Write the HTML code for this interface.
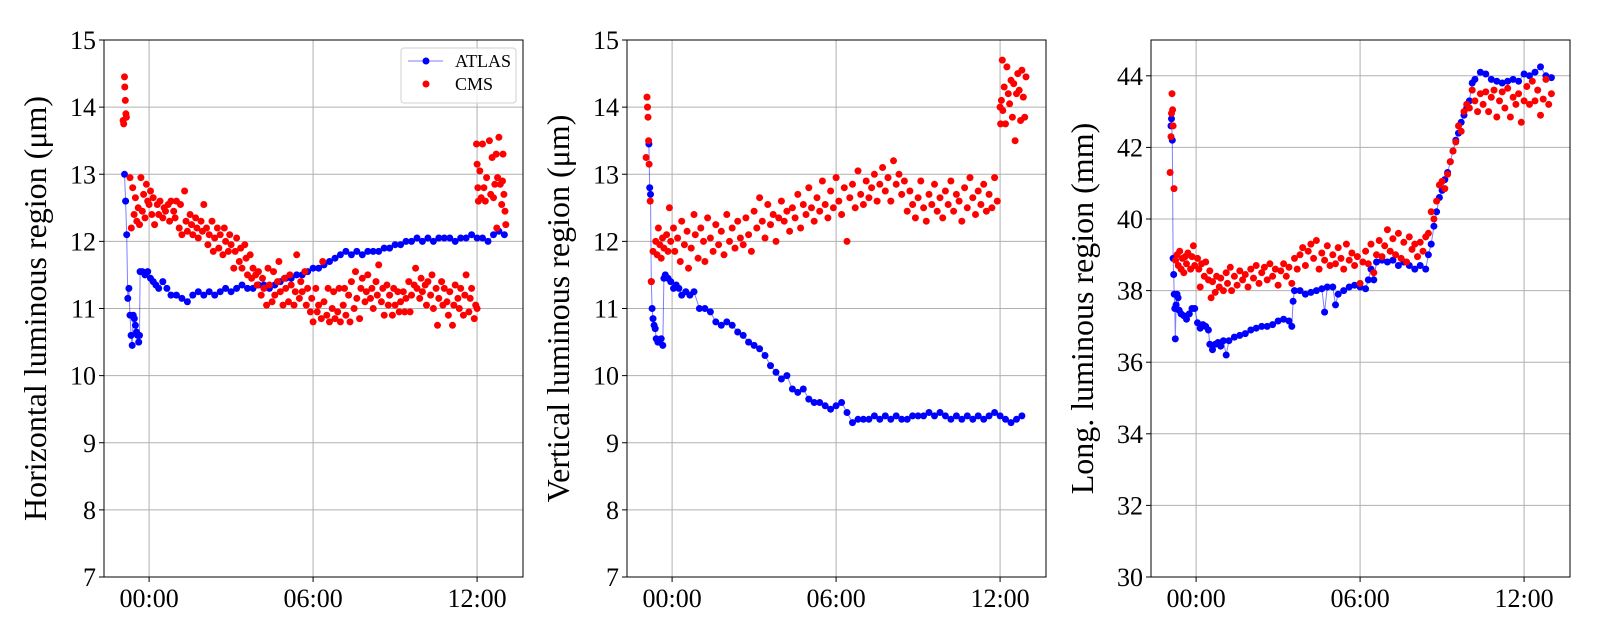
<!DOCTYPE html>
<html><head><meta charset="utf-8">
<style>
html,body{margin:0;padding:0;background:#fff;}
svg{display:block;font-family:"Liberation Serif","DejaVu Serif",serif;}
</style></head>
<body>
<svg id="fig" width="1600" height="640" viewBox="0 0 1600 640" xmlns="http://www.w3.org/2000/svg"></svg>
<script>
const xTickLabels = ["00:00","06:00","12:00"];
const xTickHours = [0,6,12];
const p1YTicks = [7,8,9,10,11,12,13,14,15];
const p2YTicks = [7,8,9,10,11,12,13,14,15];
const p3YTicks = [30,32,34,36,38,40,42,44];
const seriesNames = ["ATLAS","CMS"];
const yTitles = ["Horizontal luminous region (\u03bcm)","Vertical luminous region (\u03bcm)","Long. luminous region (mm)"];

const p1Atlas = [[-0.9,13.0],[-0.86,12.6],[-0.82,12.1],[-0.78,11.15],[-0.74,11.3],[-0.7,10.9],[-0.66,10.6],[-0.62,10.45],[-0.58,10.9],[-0.54,10.85],[-0.5,10.75],[-0.46,10.65],[-0.42,10.6],[-0.38,10.5],[-0.35,10.6],[-0.33,11.55],[-0.25,11.55],[-0.15,11.5],[-0.05,11.55],[0.05,11.45],[0.15,11.4],[0.25,11.35],[0.35,11.3],[0.5,11.4],[0.65,11.3],[0.8,11.2],[1.0,11.2],[1.2,11.15],[1.4,11.1],[1.6,11.2],[1.8,11.25],[2.0,11.2],[2.2,11.25],[2.4,11.2],[2.6,11.25],[2.8,11.3],[3.0,11.25],[3.2,11.3],[3.4,11.35],[3.6,11.3],[3.8,11.3],[4.0,11.35],[4.2,11.35],[4.4,11.3],[4.6,11.35],[4.8,11.4],[5.0,11.45],[5.2,11.45],[5.4,11.5],[5.6,11.5],[5.8,11.55],[6.0,11.6],[6.2,11.6],[6.4,11.65],[6.6,11.7],[6.8,11.75],[7.0,11.8],[7.2,11.85],[7.4,11.8],[7.6,11.85],[7.8,11.8],[8.0,11.85],[8.2,11.85],[8.4,11.85],[8.6,11.9],[8.8,11.9],[9.0,11.95],[9.2,11.95],[9.4,12.0],[9.6,12.0],[9.8,12.05],[10.0,12.0],[10.2,12.05],[10.4,12.0],[10.6,12.05],[10.8,12.05],[11.0,12.05],[11.2,12.0],[11.4,12.05],[11.6,12.05],[11.8,12.1],[12.0,12.05],[12.2,12.05],[12.4,12.0],[12.6,12.1],[12.8,12.15],[13.0,12.1]];
const p1Cms = [[-0.95,13.8],[-0.93,13.75],[-0.9,14.45],[-0.89,14.3],[-0.87,14.1],[-0.85,13.9],[-0.83,13.85],[-0.7,12.95],[-0.65,12.2],[-0.6,12.8],[-0.55,12.4],[-0.5,12.65],[-0.45,12.3],[-0.4,12.5],[-0.35,12.25],[-0.3,12.95],[-0.25,12.45],[-0.2,12.7],[-0.15,12.35],[-0.1,12.85],[-0.05,12.6],[0,12.55],[0.05,12.75],[0.1,12.4],[0.15,12.65],[0.2,12.25],[0.3,12.55],[0.35,12.4],[0.4,12.6],[0.5,12.35],[0.55,12.5],[0.6,12.45],[0.7,12.55],[0.75,12.3],[0.8,12.6],[0.9,12.45],[0.95,12.35],[1.0,12.6],[1.1,12.2],[1.15,12.55],[1.2,12.1],[1.3,12.75],[1.35,12.3],[1.4,12.15],[1.5,12.4],[1.55,12.25],[1.6,12.1],[1.7,12.35],[1.75,12.2],[1.8,12.05],[1.9,12.3],[1.95,12.15],[2.0,12.55],[2.1,12.2],[2.15,11.95],[2.2,12.1],[2.3,12.3],[2.35,11.85],[2.4,12.05],[2.5,12.2],[2.55,11.9],[2.6,12.1],[2.7,11.8],[2.75,12.2],[2.8,12.0],[2.9,11.85],[2.95,12.1],[3.0,11.95],[3.1,11.6],[3.15,11.85],[3.2,12.05],[3.3,11.7],[3.35,11.9],[3.4,11.6],[3.5,11.95],[3.55,11.75],[3.6,11.5],[3.7,11.8],[3.75,11.45],[3.8,11.6],[3.9,11.5],[3.95,11.35],[4.0,11.55],[4.1,11.2],[4.15,11.45],[4.2,11.3],[4.3,11.05],[4.35,11.6],[4.4,11.35],[4.5,11.1],[4.55,11.55],[4.6,11.2],[4.7,11.4],[4.75,11.7],[4.8,11.25],[4.9,11.05],[4.95,11.45],[5.0,11.3],[5.1,11.1],[5.15,11.5],[5.2,11.35],[5.3,11.05],[5.35,11.25],[5.4,11.8],[5.5,11.15],[5.55,11.4],[5.6,11.25],[5.7,11.55],[5.75,11.05],[5.8,11.3],[5.9,10.95],[5.95,11.15],[6.0,10.8],[6.1,11.3],[6.15,10.95],[6.2,11.05],[6.3,10.85],[6.35,11.7],[6.4,11.1],[6.5,10.9],[6.55,11.3],[6.6,10.8],[6.7,11.0],[6.75,11.25],[6.8,10.85],[6.9,10.95],[6.95,11.3],[7.0,10.8],[7.1,11.05],[7.15,11.3],[7.2,10.9],[7.3,11.2],[7.35,10.8],[7.4,11.4],[7.5,11.0],[7.55,11.55],[7.6,11.15],[7.7,10.85],[7.75,11.3],[7.8,11.45],[7.9,11.1],[7.95,11.25],[8.0,11.5],[8.1,11.15],[8.15,11.3],[8.2,11.0],[8.3,11.4],[8.35,11.2],[8.4,11.65],[8.5,11.1],[8.55,11.3],[8.6,10.9],[8.7,11.35],[8.75,11.05],[8.8,11.2],[8.9,10.9],[8.95,11.3],[9.0,11.05],[9.1,11.25],[9.15,10.95],[9.2,11.1],[9.3,11.25],[9.35,10.95],[9.4,11.15],[9.5,11.4],[9.55,10.95],[9.6,11.2],[9.7,11.35],[9.75,11.6],[9.8,11.3],[9.9,11.15],[9.95,11.45],[10.0,11.25],[10.1,11.35],[10.15,11.05],[10.2,11.4],[10.3,11.2],[10.35,11.5],[10.4,11.0],[10.5,11.3],[10.55,10.75],[10.6,11.15],[10.7,11.4],[10.75,11.05],[10.8,11.3],[10.9,11.1],[10.95,10.9],[11.0,11.25],[11.1,10.75],[11.15,11.05],[11.2,11.35],[11.3,11.15],[11.35,11.0],[11.4,11.3],[11.5,10.9],[11.55,11.2],[11.6,11.5],[11.7,10.95],[11.75,11.15],[11.8,11.3],[11.9,10.85],[11.95,11.05],[12.0,11.0],[11.98,13.45],[12.0,13.15],[12.03,12.8],[12.05,12.6],[12.1,13.05],[12.15,12.65],[12.2,13.45],[12.25,12.8],[12.3,12.6],[12.35,12.95],[12.45,13.5],[12.5,12.7],[12.55,13.25],[12.6,12.65],[12.65,12.85],[12.7,13.3],[12.72,12.2],[12.75,12.95],[12.8,13.55],[12.85,12.85],[12.9,12.55],[12.93,12.9],[12.95,13.3],[12.98,12.7],[13.02,12.45],[13.05,12.25]];

const p2Atlas = [[-0.85,13.45],[-0.82,12.8],[-0.79,12.7],[-0.76,11.4],[-0.73,11.0],[-0.7,10.85],[-0.66,10.75],[-0.62,10.7],[-0.58,10.55],[-0.52,10.5],[-0.46,10.5],[-0.4,10.55],[-0.34,10.45],[-0.3,11.45],[-0.25,11.5],[-0.15,11.45],[-0.05,11.4],[0.05,11.3],[0.15,11.35],[0.25,11.3],[0.35,11.2],[0.5,11.25],[0.65,11.2],[0.8,11.25],[1.0,11.0],[1.2,11.0],[1.4,10.95],[1.6,10.8],[1.8,10.75],[2.0,10.8],[2.2,10.75],[2.4,10.65],[2.6,10.6],[2.8,10.5],[3.0,10.45],[3.2,10.4],[3.4,10.3],[3.6,10.15],[3.8,10.05],[4.0,9.95],[4.2,10.0],[4.4,9.8],[4.6,9.75],[4.8,9.8],[5.0,9.65],[5.2,9.6],[5.4,9.6],[5.6,9.55],[5.8,9.5],[6.0,9.55],[6.2,9.6],[6.4,9.45],[6.6,9.3],[6.8,9.35],[7.0,9.35],[7.2,9.35],[7.4,9.4],[7.6,9.35],[7.8,9.4],[8.0,9.35],[8.2,9.4],[8.4,9.35],[8.6,9.35],[8.8,9.4],[9.0,9.4],[9.2,9.4],[9.4,9.45],[9.6,9.4],[9.8,9.45],[10.0,9.4],[10.2,9.35],[10.4,9.4],[10.6,9.35],[10.8,9.4],[11.0,9.35],[11.2,9.4],[11.4,9.35],[11.6,9.4],[11.8,9.45],[12.0,9.4],[12.2,9.35],[12.4,9.3],[12.6,9.35],[12.8,9.4]];
const p2Cms = [[-0.95,13.25],[-0.92,14.15],[-0.9,14.0],[-0.88,13.85],[-0.86,13.5],[-0.84,13.15],[-0.8,12.6],[-0.76,11.4],[-0.7,11.85],[-0.6,12.0],[-0.55,11.8],[-0.5,12.2],[-0.45,11.95],[-0.4,11.75],[-0.35,12.05],[-0.3,11.9],[-0.2,12.1],[-0.15,11.85],[-0.1,12.5],[-0.05,12.0],[0.05,12.2],[0.1,11.85],[0.2,12.05],[0.3,11.7],[0.35,12.3],[0.45,11.95],[0.55,12.15],[0.6,11.6],[0.7,11.9],[0.8,12.4],[0.85,12.1],[0.95,11.75],[1.05,12.2],[1.15,12.0],[1.2,11.7],[1.3,12.35],[1.4,12.05],[1.5,11.85],[1.6,12.25],[1.7,11.95],[1.8,12.15],[1.9,11.8],[2.0,12.4],[2.1,12.0],[2.2,12.2],[2.3,11.9],[2.4,12.3],[2.5,12.05],[2.6,11.95],[2.7,12.35],[2.8,12.1],[2.9,11.85],[3.0,12.45],[3.1,12.2],[3.2,12.65],[3.3,12.3],[3.4,12.05],[3.5,12.55],[3.6,12.25],[3.7,12.4],[3.8,12.0],[3.9,12.35],[4.0,12.6],[4.1,12.3],[4.2,12.45],[4.3,12.15],[4.4,12.5],[4.5,12.35],[4.6,12.7],[4.7,12.2],[4.8,12.55],[4.9,12.4],[5.0,12.8],[5.1,12.5],[5.2,12.3],[5.3,12.65],[5.4,12.45],[5.5,12.9],[5.6,12.55],[5.7,12.35],[5.8,12.75],[5.9,12.5],[6.0,12.95],[6.1,12.6],[6.2,12.4],[6.3,12.8],[6.4,12.0],[6.5,12.65],[6.6,12.85],[6.7,12.5],[6.8,13.05],[6.9,12.7],[7.0,12.55],[7.1,12.9],[7.2,12.65],[7.3,12.8],[7.4,13.0],[7.5,12.6],[7.6,12.85],[7.7,13.1],[7.8,12.75],[7.9,12.95],[8.0,12.6],[8.1,13.2],[8.2,12.85],[8.3,13.0],[8.4,12.7],[8.5,12.9],[8.6,12.45],[8.7,12.75],[8.8,12.55],[8.9,12.35],[9.0,12.65],[9.1,12.9],[9.2,12.5],[9.3,12.3],[9.4,12.7],[9.5,12.55],[9.6,12.85],[9.7,12.45],[9.8,12.65],[9.9,12.35],[10.0,12.75],[10.1,12.55],[10.2,12.9],[10.3,12.45],[10.4,12.7],[10.5,12.6],[10.6,12.3],[10.7,12.8],[10.8,12.5],[10.9,12.95],[11.0,12.65],[11.1,12.4],[11.2,12.75],[11.3,12.55],[11.4,12.85],[11.5,12.45],[11.6,12.7],[11.7,12.5],[11.8,12.95],[11.9,12.6],[12.0,14.0],[12.02,13.75],[12.05,14.1],[12.08,14.7],[12.1,13.95],[12.15,14.3],[12.2,13.75],[12.25,14.6],[12.3,14.2],[12.35,14.05],[12.4,14.4],[12.45,13.85],[12.5,14.35],[12.55,13.5],[12.6,14.2],[12.65,14.5],[12.7,14.25],[12.75,13.8],[12.8,14.55],[12.85,14.15],[12.9,13.85],[12.95,14.45]];

const p3Atlas = [[-0.92,42.6],[-0.9,42.8],[-0.87,42.2],[-0.84,38.9],[-0.82,38.45],[-0.8,37.9],[-0.78,37.5],[-0.76,36.65],[-0.73,37.6],[-0.7,37.9],[-0.66,37.8],[-0.62,37.45],[-0.55,37.35],[-0.45,37.3],[-0.35,37.2],[-0.25,37.35],[-0.15,37.5],[-0.05,37.5],[0.05,37.1],[0.15,36.95],[0.25,37.05],[0.35,37.0],[0.45,36.9],[0.5,36.5],[0.6,36.35],[0.7,36.5],[0.8,36.55],[0.9,36.45],[1.0,36.6],[1.1,36.2],[1.2,36.6],[1.4,36.7],[1.6,36.75],[1.8,36.8],[2.0,36.9],[2.2,36.95],[2.4,37.0],[2.6,37.0],[2.8,37.05],[3.0,37.15],[3.2,37.2],[3.4,37.15],[3.5,37.0],[3.55,37.7],[3.6,38.0],[3.8,38.0],[4.0,37.9],[4.2,37.95],[4.4,38.0],[4.6,38.05],[4.7,37.4],[4.8,38.1],[5.0,38.1],[5.1,37.6],[5.2,37.9],[5.4,38.0],[5.6,38.1],[5.8,38.15],[6.0,38.1],[6.2,38.05],[6.3,38.3],[6.4,38.6],[6.5,38.3],[6.6,38.8],[6.8,38.85],[7.0,38.8],[7.2,38.85],[7.4,38.7],[7.6,38.8],[7.8,38.7],[8.0,38.6],[8.2,38.7],[8.4,38.6],[8.5,39.0],[8.6,39.3],[8.7,39.8],[8.8,40.2],[8.9,40.6],[9.0,40.8],[9.1,41.1],[9.2,41.3],[9.3,41.6],[9.4,41.9],[9.5,42.2],[9.6,42.4],[9.7,42.7],[9.8,42.9],[9.9,43.1],[10.0,43.3],[10.1,43.8],[10.2,43.9],[10.4,44.1],[10.6,44.05],[10.8,43.9],[11.0,43.85],[11.2,43.8],[11.4,43.85],[11.6,43.9],[11.8,43.85],[12.0,44.05],[12.2,44.0],[12.4,44.1],[12.6,44.25],[12.8,44.0],[13.0,43.95]];
const p3Cms = [[-0.95,41.3],[-0.92,42.3],[-0.9,42.95],[-0.88,43.5],[-0.86,43.05],[-0.84,42.6],[-0.81,40.85],[-0.75,38.85],[-0.7,39.0],[-0.65,38.7],[-0.6,39.1],[-0.55,38.6],[-0.5,38.9],[-0.45,38.5],[-0.4,38.95],[-0.35,38.75],[-0.3,39.05],[-0.2,38.6],[-0.15,38.95],[-0.1,39.25],[-0.05,38.7],[0.05,38.9],[0.1,38.6],[0.15,38.1],[0.2,38.75],[0.3,38.4],[0.35,38.8],[0.45,38.3],[0.5,38.55],[0.55,37.8],[0.6,38.25],[0.7,37.95],[0.75,38.4],[0.85,38.1],[0.9,38.35],[1.0,38.0],[1.1,38.5],[1.15,38.2],[1.25,38.65],[1.3,38.0],[1.4,38.4],[1.5,38.15],[1.6,38.55],[1.7,38.3],[1.8,38.45],[1.9,38.1],[2.0,38.6],[2.1,38.35],[2.2,38.7],[2.3,38.2],[2.4,38.5],[2.5,38.65],[2.6,38.3],[2.7,38.75],[2.8,38.4],[2.9,38.6],[3.0,38.15],[3.1,38.55],[3.2,38.75],[3.3,38.4],[3.4,38.65],[3.5,38.2],[3.6,38.9],[3.7,38.6],[3.8,39.0],[3.9,39.2],[4.0,38.7],[4.1,39.1],[4.2,39.3],[4.3,38.9],[4.4,39.4],[4.5,38.6],[4.6,39.05],[4.7,38.85],[4.8,39.25],[4.9,38.7],[5.0,39.0],[5.1,38.75],[5.2,39.2],[5.3,38.9],[5.4,38.6],[5.5,39.3],[5.6,38.85],[5.7,39.05],[5.8,38.7],[5.9,38.95],[6.0,38.2],[6.1,38.8],[6.2,39.1],[6.3,38.75],[6.4,39.3],[6.5,38.5],[6.6,39.0],[6.7,39.4],[6.8,38.95],[6.9,39.25],[7.0,39.7],[7.1,39.1],[7.2,39.45],[7.3,39.0],[7.4,39.6],[7.5,38.9],[7.6,39.35],[7.7,38.8],[7.8,39.5],[7.9,39.15],[8.0,39.3],[8.1,38.95],[8.2,39.35],[8.3,39.1],[8.4,39.5],[8.5,39.6],[8.6,40.2],[8.7,40.0],[8.8,40.5],[8.9,40.95],[9.0,41.05],[9.1,40.85],[9.2,41.25],[9.3,41.6],[9.4,41.9],[9.5,42.15],[9.6,42.6],[9.7,42.45],[9.8,43.0],[9.9,43.2],[10.0,43.1],[10.1,43.6],[10.2,43.3],[10.3,43.0],[10.4,43.5],[10.5,43.2],[10.6,43.55],[10.7,43.0],[10.8,43.4],[10.9,43.6],[11.0,42.85],[11.1,43.3],[11.2,43.55],[11.3,43.1],[11.4,43.65],[11.5,42.85],[11.6,43.4],[11.7,43.2],[11.8,43.5],[11.9,42.7],[12.0,43.3],[12.1,43.7],[12.2,43.2],[12.3,43.85],[12.4,43.3],[12.5,43.6],[12.6,42.9],[12.7,43.35],[12.8,43.9],[12.9,43.2],[13.0,43.5]];

const NS = "http://www.w3.org/2000/svg";
const svg = document.getElementById('fig');
function mk(tag, attrs, parent){
  const e = document.createElementNS(NS, tag);
  for (const k in attrs) e.setAttribute(k, attrs[k]);
  (parent||svg).appendChild(e);
  return e;
}
const PW = 419, TOP = 40, BOT = 577, H0 = -1.65, H1 = 13.68, R = 3.5;

function panel(idx, left, yTicks, yMin, yMax, atlas, cms, legend){
  const g = mk('g', {});
  
  
  const xs = h => left + (h - H0) / (H1 - H0) * PW;
  const ys = v => BOT - (v - yMin) / (yMax - yMin) * (BOT - TOP);
  yTicks.forEach(t => {
    const l = mk('line', {x1:left, x2:left+PW, y1:ys(t), y2:ys(t), stroke:'#b0b0b0', 'stroke-width':1}, g);
    
    
    const tk = mk('line', {x1:left-5, x2:left, y1:ys(t), y2:ys(t), stroke:'#000', 'stroke-width':1}, g);
    
    
    const tx = mk('text', {x:left-8, y:ys(t)+9, 'text-anchor':'end', 'font-size':26, fill:'#000'}, g);
    tx.textContent = t;
    
    
  });
  xTickHours.forEach((h, i) => {
    const l = mk('line', {x1:xs(h), x2:xs(h), y1:TOP, y2:BOT, stroke:'#b0b0b0', 'stroke-width':1}, g);
    
    
    const tk = mk('line', {x1:xs(h), x2:xs(h), y1:BOT, y2:BOT+5, stroke:'#000', 'stroke-width':1}, g);
    
    
    const tx = mk('text', {x:xs(h), y:BOT+30, 'text-anchor':'middle', 'font-size':26, fill:'#000'}, g);
    tx.textContent = xTickLabels[i];
    
    
  });
  const pl = mk('polyline', {points: atlas.map(p => xs(p[0]).toFixed(1)+','+ys(p[1]).toFixed(1)).join(' '), fill:'none', stroke:'#0000ff', 'stroke-opacity':0.5, 'stroke-width':1}, g);
  
  
  const ga = mk('g', {fill:'#0000ff'}, g);
  
  
  atlas.forEach(p => {
    const c = mk('circle', {cx:xs(p[0]).toFixed(1), cy:ys(p[1]).toFixed(1), r:R}, ga);
    
    
  });
  const gc = mk('g', {fill:'#ff0000'}, g);
  
  
  cms.forEach(p => {
    const c = mk('circle', {cx:xs(p[0]).toFixed(1), cy:ys(p[1]).toFixed(1), r:R}, gc);
    
    
  });
  const fr = mk('rect', {x:left, y:TOP, width:PW, height:BOT-TOP, fill:'none', stroke:'#000', 'stroke-width':1}, g);
  
  
  const cx = left - 58, cy = (TOP + BOT) / 2;
  const yt = mk('text', {x:cx, y:cy, 'text-anchor':'middle', 'font-size':32, fill:'#000', transform:'rotate(-90 '+cx+' '+cy+')'}, g);
  yt.textContent = yTitles[idx];
  
  
  if (legend) {
    const lg = mk('g', {}, g);
    
    
    mk('rect', {x:401, y:48, width:115, height:55, rx:3, fill:'#fff', 'fill-opacity':0.8, stroke:'#d0d0d0'}, lg);
    const l1 = mk('line', {x1:408, x2:443, y1:61, y2:61, stroke:'#0000ff', 'stroke-opacity':0.5, 'stroke-width':1}, lg);
    
    
    mk('circle', {cx:426, cy:61, r:R, fill:'#0000ff'}, lg);
    const t1 = mk('text', {x:455, y:67, 'font-size':18, fill:'#000'}, lg);
    t1.textContent = seriesNames[0];
    
    
    mk('circle', {cx:426, cy:84, r:R, fill:'#ff0000'}, lg);
    const t2 = mk('text', {x:455, y:90, 'font-size':18, fill:'#000'}, lg);
    t2.textContent = seriesNames[1];
    
    
  }
}
panel(0, 104, p1YTicks, 7, 15, p1Atlas, p1Cms, true);
panel(1, 627, p2YTicks, 7, 15, p2Atlas, p2Cms, false);
panel(2, 1151, p3YTicks, 30, 45, p3Atlas, p3Cms, false);
</script>
</body></html>
